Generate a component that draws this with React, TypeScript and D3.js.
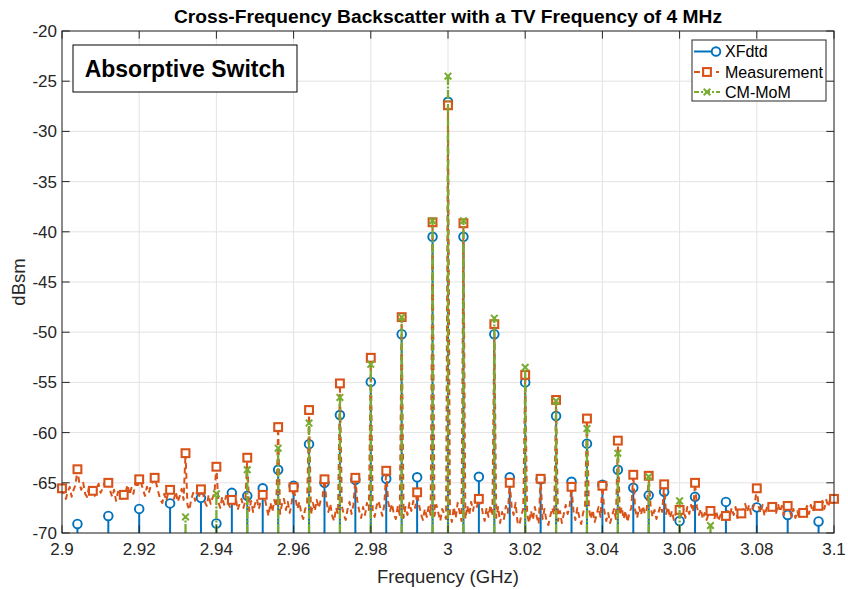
import React from 'react';
import * as d3 from 'd3';

const W = 848;
const H = 590;
const PLOT = { left: 62, right: 834, top: 31, bottom: 533 };

const COLORS = { xfdtd: '#0072BD', meas: '#D95319', cmmom: '#77AC30', axis: '#262626', grid: '#e3e3e3' };
const FONT = '"Liberation Sans", Arial, Helvetica, sans-serif';

const xTicks = [2.9, 2.92, 2.94, 2.96, 2.98, 3.0, 3.02, 3.04, 3.06, 3.08, 3.1];
const xTickLabels = ['2.9', '2.92', '2.94', '2.96', '2.98', '3', '3.02', '3.04', '3.06', '3.08', '3.1'];
const yTicks = [-70, -65, -60, -55, -50, -45, -40, -35, -30, -25, -20];
const yTickLabels = ['-70', '-65', '-60', '-55', '-50', '-45', '-40', '-35', '-30', '-25', '-20'];

// XFdtd simulated harmonics (GHz, dBsm)
const xfdtdFreq = [
  2.904, 2.912, 2.92, 2.928, 2.936, 2.94, 2.944, 2.948, 2.952, 2.956, 2.96, 2.964, 2.968, 2.972,
  2.976, 2.98, 2.984, 2.988, 2.992, 2.996, 3.0, 3.004, 3.008, 3.012, 3.016, 3.02, 3.024, 3.028,
  3.032, 3.036, 3.04, 3.044, 3.048, 3.052, 3.056, 3.06, 3.064, 3.072, 3.08, 3.088, 3.096,
];
const xfdtdDbsm = [
  -69.1, -68.3, -67.6, -67.05, -66.5, -69.05, -66.0, -66.3, -65.55, -63.7, -65.3, -61.15, -65.0, -58.25,
  -64.7, -54.95, -64.6, -50.2, -64.45, -40.5, -27.05, -40.5, -64.4, -50.2, -64.45, -55.0, -64.65, -58.35,
  -64.9, -61.1, -65.2, -63.7, -65.5, -66.25, -65.9, -68.8, -66.4, -66.9, -67.45, -68.2, -68.85,
];

// CM-MoM odd harmonics (GHz, dBsm)
const cmmomFreq = [
  2.932, 2.94, 2.948, 2.956, 2.964, 2.972, 2.98, 2.988, 2.996, 3.0, 3.004, 3.012, 3.02, 3.028,
  3.036, 3.044, 3.052, 3.06, 3.068,
];
const cmmomDbsm = [
  -68.4, -66.1, -63.7, -61.55, -59.05, -56.5, -53.2, -48.5, -38.9, -24.5, -38.9, -48.6, -53.5, -56.85,
  -59.6, -62.05, -64.4, -66.8, -69.25,
];

// Measurement: marker bins every 4 MHz from 2.9 to 3.1 GHz
const measStartGHz = 2.9;
const measBinGHz = 0.004;
const measSubGHz = 0.0005;
const measMarkerDbsm = [
  -65.55, -63.65, -65.8, -65.0, -66.2, -64.65, -64.5, -65.7, -62.05, -65.65,
  -63.4, -66.7, -62.5, -66.2, -59.45, -65.45, -57.75, -64.65, -55.1, -64.5,
  -52.55, -63.8, -48.5, -65.95, -39.05, -27.4, -39.15, -66.6, -49.2, -65.0,
  -54.25, -64.6, -56.75, -65.4, -58.6, -65.3, -60.8, -64.2, -64.3, -65.15,
  -67.7, -65.0, -67.8, -68.3, -68.05, -65.55, -67.4, -67.3, -68.0, -67.3,
  -66.6,
];
// Measured trace between consecutive marker bins (0.5 MHz spacing)
const measBetweenDbsm = [
  [-66.1, -66.6, -65.9, -65.4, -66.4, -65.7, -65.2],
  [-65.1, -65.7, -65.0, -66.1, -66.4, -65.4, -66.0],
  [-66.3, -65.5, -65.1, -66.0, -65.6, -65.0, -65.4],
  [-65.8, -66.4, -65.7, -66.8, -65.9, -66.2, -66.6],
  [-65.9, -65.2, -66.2, -65.5, -66.1, -65.0, -65.5],
  [-65.0, -65.7, -66.3, -65.4, -66.0, -65.3, -64.9],
  [-65.2, -66.0, -66.7, -67.0, -66.1, -66.8, -66.0],
  [-65.8, -66.6, -65.9, -66.9, -66.3, -65.6, -66.7],
  [-67.2, -67.7, -66.6, -66.0, -66.8, -65.8, -66.4],
  [-66.0, -66.9, -67.3, -66.2, -67.1, -66.5, -66.0],
  [-66.9, -67.5, -66.4, -67.2, -66.3, -67.0, -67.4],
  [-67.3, -66.5, -67.7, -67.1, -66.6, -67.5, -66.8],
  [-67.8, -66.8, -67.9, -67.1, -66.6, -67.6, -66.8],
  [-66.5, -67.4, -68.3, -67.0, -67.9, -66.7, -67.4],
  [-68.1, -67.1, -66.6, -67.7, -66.9, -68.0, -67.0],
  [-66.6, -67.6, -66.9, -68.1, -68.6, -67.6, -67.2],
  [-68.2, -67.0, -67.8, -66.7, -67.5, -66.8, -66.4],
  [-66.8, -67.9, -67.1, -68.3, -68.8, -67.5, -68.1],
  [-67.3, -68.2, -68.7, -67.6, -66.9, -68.1, -67.2],
  [-66.8, -67.8, -68.5, -67.4, -68.2, -67.0, -67.7],
  [-67.9, -68.4, -67.3, -66.8, -67.6, -68.3, -67.2],
  [-66.9, -67.8, -67.1, -68.2, -68.6, -67.3, -68.2],
  [-68.5, -67.4, -68.2, -67.0, -67.8, -66.8, -67.5],
  [-67.2, -68.1, -68.7, -67.6, -68.4, -67.3, -68.2],
  [-68.3, -67.2, -68.0, -68.8, -67.6, -68.1, -68.6],
  [-68.1, -68.9, -67.4, -68.5, -67.0, -67.9, -68.8],
  [-68.6, -67.3, -68.2, -66.9, -67.8, -66.6, -67.4],
  [-66.9, -68.0, -68.8, -67.5, -68.4, -67.2, -68.3],
  [-68.5, -67.4, -69.0, -67.9, -68.6, -67.3, -68.0],
  [-67.4, -68.2, -67.0, -68.9, -69.2, -68.2, -67.6],
  [-68.1, -69.0, -67.8, -68.7, -67.4, -68.4, -69.1],
  [-68.6, -67.6, -68.8, -69.2, -68.3, -67.5, -68.2],
  [-68.8, -67.8, -69.0, -68.1, -67.2, -68.1, -67.4],
  [-67.8, -68.7, -67.5, -68.4, -69.1, -68.0, -67.3],
  [-67.5, -68.6, -67.7, -68.9, -68.2, -67.4, -68.4],
  [-67.8, -68.8, -68.0, -69.0, -68.3, -67.6, -68.6],
  [-68.2, -67.4, -68.6, -67.8, -68.9, -68.0, -67.5],
  [-67.7, -68.5, -67.4, -68.2, -67.3, -68.1, -67.6],
  [-67.4, -68.4, -67.7, -68.6, -68.0, -67.3, -67.9],
  [-68.1, -67.4, -68.5, -67.8, -68.7, -68.1, -67.6],
  [-68.4, -67.6, -68.5, -67.4, -68.1, -67.2, -67.9],
  [-67.4, -68.2, -67.6, -68.6, -68.0, -68.7, -68.1],
  [-68.0, -68.6, -67.8, -68.8, -68.3, -67.9, -68.5],
  [-67.8, -68.3, -67.5, -68.2, -67.4, -68.5, -68.0],
  [-67.6, -67.1, -67.9, -67.2, -68.1, -67.5, -67.0],
  [-67.4, -68.0, -67.2, -68.3, -67.6, -67.1, -67.9],
  [-67.5, -68.0, -67.1, -67.9, -67.3, -68.2, -67.5],
  [-67.7, -68.4, -67.6, -68.5, -67.8, -68.6, -68.1],
  [-67.9, -67.3, -68.1, -67.2, -67.9, -67.1, -67.6],
  [-67.3, -66.8, -67.6, -66.7, -67.4, -66.6, -67.0],
];

const seriesNames = ['XFdtd', 'Measurement', 'CM-MoM'];

type Pt = { f: number; v: number };

const measMarkers: Pt[] = measMarkerDbsm.map((v, k) => ({ f: measStartGHz + k * measBinGHz, v }));
const measTrace: Pt[] = [];
measMarkers.forEach((m, k) => {
  measTrace.push(m);
  const between = measBetweenDbsm[k];
  if (between) between.forEach((v, j) => measTrace.push({ f: m.f + (j + 1) * measSubGHz, v }));
});
const xfdtd: Pt[] = xfdtdFreq.map((f, i) => ({ f, v: xfdtdDbsm[i] }));
const cmmom: Pt[] = cmmomFreq.map((f, i) => ({ f, v: cmmomDbsm[i] }));

const x = d3.scaleLinear().domain([2.9, 3.1]).range([PLOT.left, PLOT.right]);
const y = d3.scaleLinear().domain([-70, -20]).range([PLOT.bottom, PLOT.top]);
const base = -70;

const lineGen = d3
  .line<Pt>()
  .x((d) => x(d.f))
  .y((d) => y(d.v));

const TICK = 7.7;

function Circle({ cx, cy }: { cx: number; cy: number }) {
  return <circle cx={cx} cy={cy} r={4.3} fill="#fff" stroke={COLORS.xfdtd} strokeWidth={1.9} />;
}
function Square({ cx, cy }: { cx: number; cy: number }) {
  const s = 7.8;
  return (
    <rect x={cx - s / 2} y={cy - s / 2} width={s} height={s} fill="#fff" stroke={COLORS.meas} strokeWidth={2.1} />
  );
}
function Cross({ cx, cy }: { cx: number; cy: number }) {
  const s = 3.3;
  return (
    <path
      d={`M${cx - s},${cy - s}L${cx + s},${cy + s}M${cx - s},${cy + s}L${cx + s},${cy - s}`}
      stroke={COLORS.cmmom}
      strokeWidth={2}
      fill="none"
    />
  );
}

export default function App() {
  const legendX = 692;
  const legendY = 40;
  const legendW = 134;
  const legendH = 61;
  const rows = [51.5, 72, 92];

  return (
    <svg
      width={W}
      height={H}
      viewBox={`0 0 ${W} ${H}`}
      style={{ position: 'absolute', left: 0, top: 0, background: '#fff' }}
      fontFamily={FONT}
    >
      <rect x={0} y={0} width={W} height={H} fill="#fff" />
      <rect x={PLOT.left} y={PLOT.top} width={PLOT.right - PLOT.left} height={PLOT.bottom - PLOT.top} fill="#fff" />

      {/* grid */}
      <g stroke={COLORS.grid} strokeWidth={1}>
        {xTicks.map((t) => (
          <line key={`gx${t}`} x1={x(t)} x2={x(t)} y1={PLOT.top} y2={PLOT.bottom} />
        ))}
        {yTicks.map((t) => (
          <line key={`gy${t}`} x1={PLOT.left} x2={PLOT.right} y1={y(t)} y2={y(t)} />
        ))}
      </g>

      {/* XFdtd stems */}
      <g>
        {xfdtd.map((d, i) => (
          <line key={`xs${i}`} x1={x(d.f)} x2={x(d.f)} y1={y(base)} y2={y(d.v)} stroke={COLORS.xfdtd} strokeWidth={2} />
        ))}
        {xfdtd.map((d, i) => (
          <Circle key={`xc${i}`} cx={x(d.f)} cy={y(d.v)} />
        ))}
      </g>

      {/* Measurement trace */}
      <g>
        <path
          d={lineGen(measTrace) || ''}
          fill="none"
          stroke={COLORS.meas}
          strokeWidth={2}
          strokeDasharray="6,4"
          strokeLinejoin="round"
        />
        {measMarkers.map((d, i) => (
          <Square key={`ms${i}`} cx={x(d.f)} cy={y(d.v)} />
        ))}
      </g>

      {/* CM-MoM stems */}
      <g>
        {cmmom.map((d, i) => (
          <line
            key={`cs${i}`}
            x1={x(d.f)}
            x2={x(d.f)}
            y1={y(base)}
            y2={y(d.v)}
            stroke={COLORS.cmmom}
            strokeWidth={2.3}
            strokeDasharray="9,1.5,2,1.5"
          />
        ))}
        {cmmom.map((d, i) => (
          <Cross key={`cx${i}`} cx={x(d.f)} cy={y(d.v)} />
        ))}
      </g>

      {/* axes box and ticks */}
      <g stroke={COLORS.axis} strokeWidth={1} fill="none">
        <rect x={PLOT.left} y={PLOT.top} width={PLOT.right - PLOT.left} height={PLOT.bottom - PLOT.top} />
        {xTicks.map((t) => (
          <g key={`tx${t}`}>
            <line x1={x(t)} x2={x(t)} y1={PLOT.bottom} y2={PLOT.bottom - TICK} />
            <line x1={x(t)} x2={x(t)} y1={PLOT.top} y2={PLOT.top + TICK} />
          </g>
        ))}
        {yTicks.map((t) => (
          <g key={`ty${t}`}>
            <line x1={PLOT.left} x2={PLOT.left + TICK} y1={y(t)} y2={y(t)} />
            <line x1={PLOT.right} x2={PLOT.right - TICK} y1={y(t)} y2={y(t)} />
          </g>
        ))}
      </g>

      {/* tick labels */}
      <g fill={COLORS.axis} fontSize={17}>
        {xTicks.map((t, i) => (
          <text key={`lx${t}`} x={x(t)} y={PLOT.bottom + 22} textAnchor="middle">
            {xTickLabels[i]}
          </text>
        ))}
        {yTicks.map((t, i) => (
          <text key={`ly${t}`} x={PLOT.left - 5} y={y(t) + 6} textAnchor="end">
            {yTickLabels[i]}
          </text>
        ))}
      </g>

      {/* axis labels and title */}
      <text x={(PLOT.left + PLOT.right) / 2} y={583} textAnchor="middle" fontSize={18.5} fill={COLORS.axis}>
        Frequency (GHz)
      </text>
      <text
        transform={`translate(25,${(PLOT.top + PLOT.bottom) / 2}) rotate(-90)`}
        textAnchor="middle"
        fontSize={18.5}
        fill={COLORS.axis}
      >
        dBsm
      </text>
      <text
        x={(PLOT.left + PLOT.right) / 2}
        y={23}
        textAnchor="middle"
        fontSize={19.2}
        fontWeight="bold"
        fill="#000"
      >
        Cross-Frequency Backscatter with a TV Frequency of 4 MHz
      </text>

      {/* annotation */}
      <rect x={73} y={45} width={224} height={47} fill="#fff" stroke="#000" strokeWidth={1} />
      <text x={185} y={76.5} textAnchor="middle" fontSize={23} fontWeight="bold" fill="#000">
        Absorptive Switch
      </text>

      {/* legend */}
      <g>
        <rect x={legendX} y={legendY} width={legendW} height={legendH} fill="#fff" stroke={COLORS.axis} strokeWidth={1} />
        <line x1={694} x2={713} y1={rows[0]} y2={rows[0]} stroke={COLORS.xfdtd} strokeWidth={2} />
        <Circle cx={716} cy={rows[0]} />
        <line x1={694} x2={719} y1={rows[1]} y2={rows[1]} stroke={COLORS.meas} strokeWidth={2} strokeDasharray="6,5" />
        <Square cx={707} cy={rows[1]} />
        <line x1={694} x2={720} y1={rows[2]} y2={rows[2]} stroke={COLORS.cmmom} strokeWidth={2} strokeDasharray="5,2,2,2" />
        <Cross cx={707} cy={rows[2]} />
        {seriesNames.map((n, i) => (
          <text key={n} x={725} y={rows[i] + 5.5} fontSize={16} fill="#000">
            {n}
          </text>
        ))}
      </g>
    </svg>
  );
}
